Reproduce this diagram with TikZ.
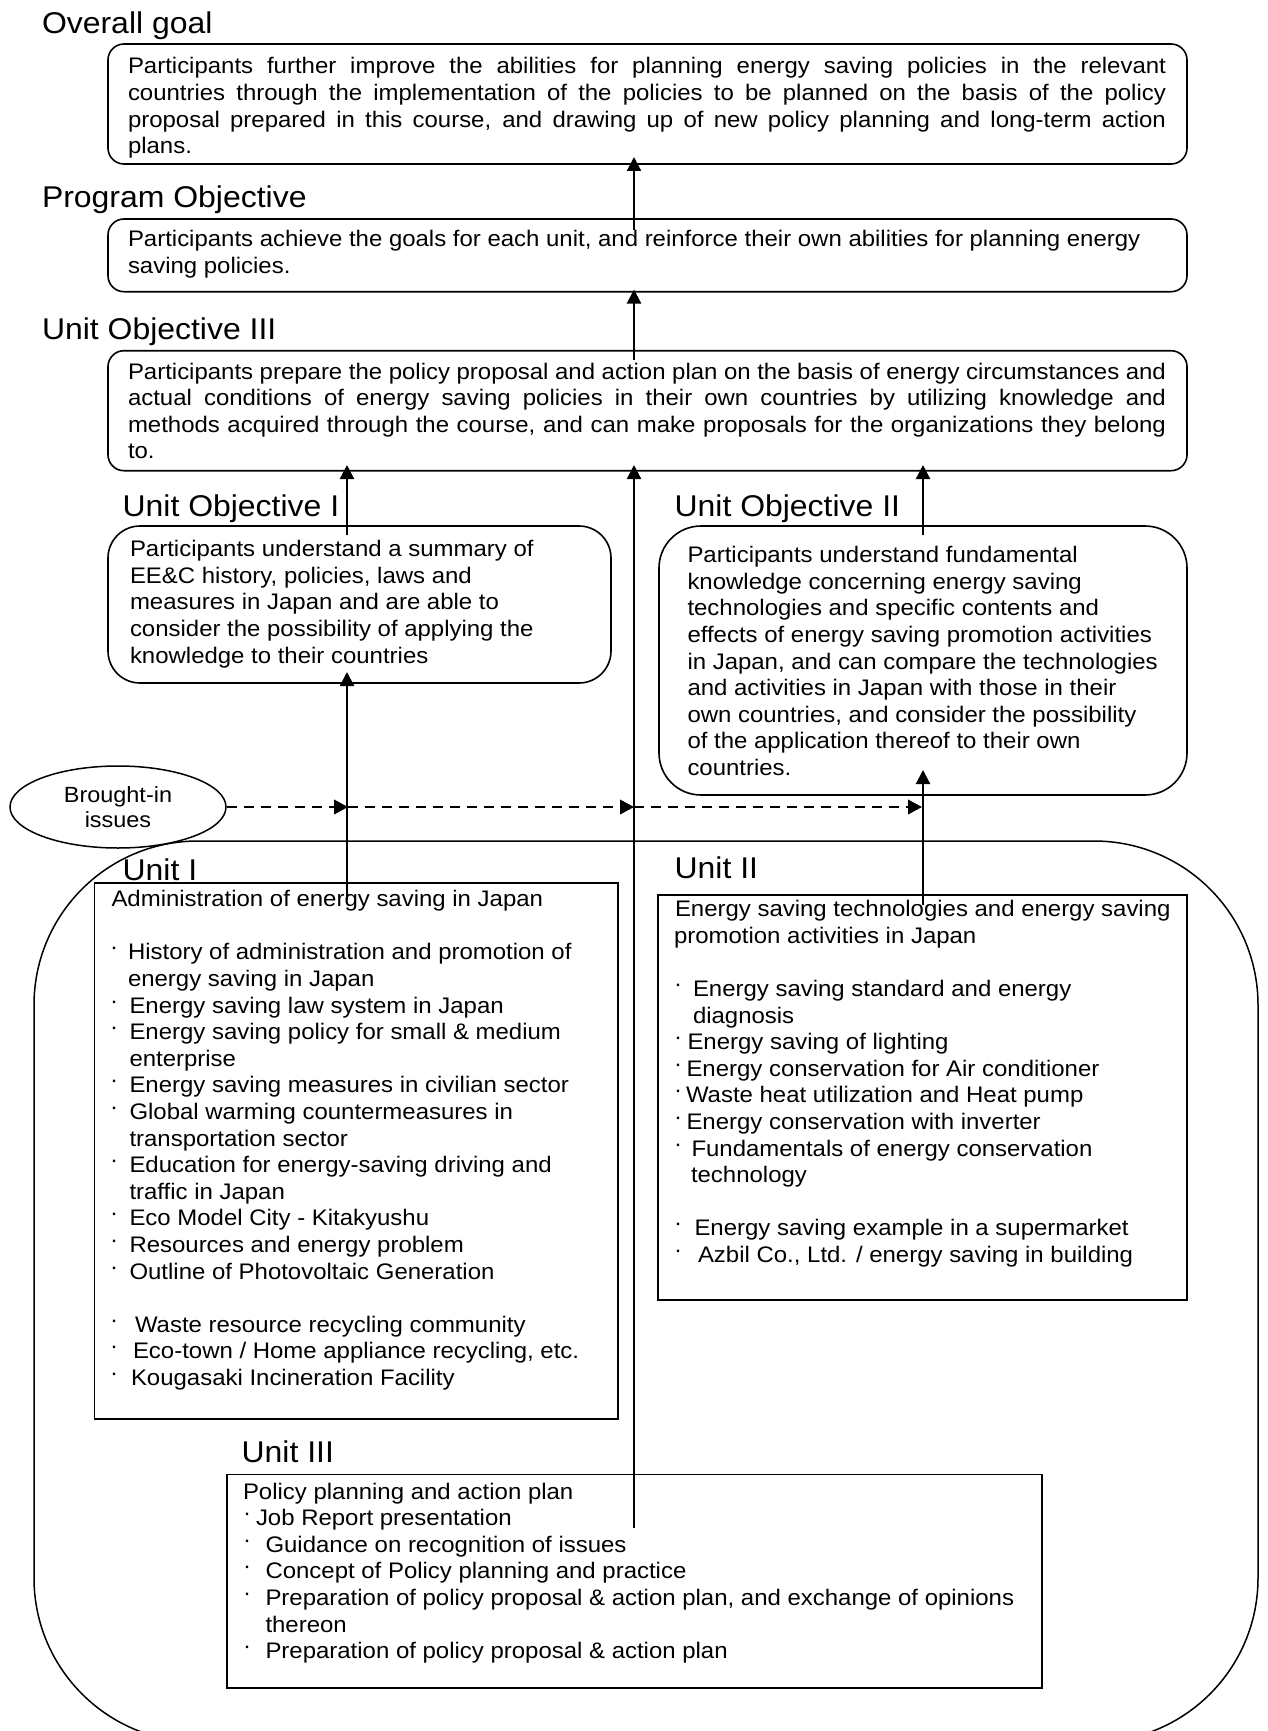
\documentclass[tikz,border=0pt]{standalone}
\usepackage{fontspec}
\setmainfont{Liberation Sans}[FakeStretch=1.065]
\usetikzlibrary{arrows.meta,shapes.geometric}

\newcommand\bdot{\raisebox{0.22em}{·}}
\newcommand\bl[2]{\makebox[#1][l]{\bdot}#2}
\newcommand\jl[1]{\makebox[\linewidth][s]{#1}}
\newcommand\bodyfont{\fontsize{22.5}{26.6}\selectfont}
\newcommand\ttlfont{\fontsize{30}{34}\selectfont}
\newcommand\blk[2]{\begin{minipage}[t]{#1}\bodyfont\raggedright #2\end{minipage}}

\begin{document}
\begin{tikzpicture}[x=1pt,y=-1pt,
  bx/.style={draw, line width=1.6pt, inner sep=0pt, outer sep=0pt, anchor=north west},
  ttl/.style={anchor=base west, inner sep=0pt, outer sep=0pt, font=\ttlfont},
  txt/.style={anchor=base west, inner sep=0pt, outer sep=0pt},
  arr/.style={line width=2.2pt, -{Triangle[length=14pt,width=14pt]}},
  dsh/.style={line width=2.2pt, dash pattern=on 10pt off 7pt, -{Triangle[length=14pt,width=14.5pt]}}]

\useasboundingbox (0,0) rectangle (1267,1731);

% ---- outer container (units) ----
\node[bx, line width=1.5pt, rounded corners=164pt, minimum width=1224pt, minimum height=901pt] (cont) at (34,841) {};

% ---- objective boxes ----
\node[bx, rounded corners=16pt, minimum width=1079pt, minimum height=120pt] (og) at (108,44) {};
\node[bx, rounded corners=16pt, minimum width=1079pt, minimum height=72.7pt] (po) at (108,219) {};
\node[bx, rounded corners=16pt, minimum width=1079pt, minimum height=120pt] (u3) at (108,350.7) {};
\node[bx, rounded corners=32pt, minimum width=503pt, minimum height=157pt] (u1) at (108,526) {};
\node[bx, rounded corners=42pt, minimum width=528pt, minimum height=269pt] (u2) at (659,526) {};

% ---- unit boxes ----
\node[bx, minimum width=523.5pt, minimum height=536pt] (b1) at (94.5,883) {};
\node[bx, minimum width=529pt, minimum height=405pt] (b2) at (658,895) {};
\node[bx, minimum width=815.3pt, minimum height=213.4pt] (b3) at (226.7,1474.3) {};

% ---- titles ----
\node[ttl] (ogl) at (42,33.3) {Overall goal};
\node[ttl] (pol) at (42,207.3) {Program Objective};
\node[ttl] (u3l) at (42,339) {Unit Objective III};
\node[ttl] (u1l) at (122.6,516) {Unit Objective I};
\node[ttl] (u2l) at (674.6,516.7) {Unit Objective II};
\node[ttl] (b1l) at (122.6,880.7) {Unit I};
\node[ttl] (b2l) at (674.6,878) {Unit II};
\node[ttl] (b3l) at (241.6,1462.7) {Unit III};

% ---- texts ----
\node[txt] (ogt) at (128,74) {\blk{1038pt}{%
\jl{Participants further improve the abilities for planning energy saving policies in the relevant}\\
\jl{countries through the implementation of the policies to be planned on the basis of the policy}\\
\jl{proposal prepared in this course, and drawing up of new policy planning and long-term action}\\
plans.}};

\node[txt] (pot) at (128,246.7) {\blk{1100pt}{%
Participants achieve the goals for each unit, and reinforce their own abilities for planning energy\\
saving policies.}};

\node[txt] (u3t) at (128,379) {\blk{1038pt}{%
\jl{Participants prepare the policy proposal and action plan on the basis of energy circumstances and}\\
\jl{actual conditions of energy saving policies in their own countries by utilizing knowledge and}\\
\jl{methods acquired through the course, and can make proposals for the organizations they belong}\\
to.}};

\node[txt] (u1t) at (130,556.7) {\blk{560pt}{%
Participants understand a summary of\\
EE\&C history, policies, laws and\\
measures in Japan and are able to\\
consider the possibility of applying the\\
knowledge to their countries}};

\node[txt] (u2t) at (687.5,562.7) {\blk{560pt}{%
Participants understand fundamental\\
knowledge concerning energy saving\\
technologies and specific contents and\\
effects of energy saving promotion activities\\
in Japan, and can compare the technologies\\
and activities in Japan with those in their\\
own countries, and consider the possibility\\
of the application thereof to their own\\
countries.}};

\node[txt] (b1t) at (110,906.7) {\blk{560pt}{%
\hspace*{1.5pt}Administration of energy saving in Japan\\
\mbox{}\\
\bl{18pt}{History of administration and promotion of}\\
\hspace*{18pt}energy saving in Japan\\
\bl{19.5pt}{Energy saving law system in Japan}\\
\bl{19.5pt}{Energy saving policy for small \& medium}\\
\hspace*{19.5pt}enterprise\\
\bl{19.5pt}{Energy saving measures in civilian sector}\\
\bl{19.5pt}{Global warming countermeasures in}\\
\hspace*{19.5pt}transportation sector\\
\bl{19.5pt}{Education for energy-saving driving and}\\
\hspace*{19.5pt}traffic in Japan\\
\bl{19.5pt}{Eco Model City - Kitakyushu}\\
\bl{19.5pt}{Resources and energy problem}\\
\bl{19.5pt}{Outline of Photovoltaic Generation}\\
\mbox{}\\
\bl{25pt}{Waste resource recycling community}\\
\bl{23pt}{Eco-town / Home appliance recycling, etc.}\\
\bl{21pt}{Kougasaki Incineration Facility}}};

\node[txt] (b2t) at (674,916.7) {\blk{560pt}{%
\hspace*{1pt}Energy saving technologies and energy saving\\
promotion activities in Japan\\
\mbox{}\\
\bl{19pt}{Energy saving standard and energy}\\
\hspace*{19pt}diagnosis\\
\bl{13.5pt}{Energy saving of lighting}\\
\bl{12.5pt}{Energy conservation for Air conditioner}\\
\bl{12pt}{Waste heat utilization and Heat pump}\\
\bl{12.5pt}{Energy conservation with inverter}\\
\bl{17.5pt}{Fundamentals of energy conservation}\\
\hspace*{17pt}technology\\
\mbox{}\\
\bl{20.5pt}{Energy saving example in a supermarket}\\
\bl{24pt}{Azbil Co., Ltd. / energy saving in building}}};

\node[txt] (b3t) at (243,1499) {\blk{800pt}{%
Policy planning and action plan\\
\bl{13pt}{Job Report presentation}\\
\bl{22.5pt}{Guidance on recognition of issues}\\
\bl{22.5pt}{Concept of Policy planning and practice}\\
\bl{22.5pt}{Preparation of policy proposal \& action plan, and exchange of opinions}\\
\hspace*{22.5pt}thereon\\
\bl{22.5pt}{Preparation of policy proposal \& action plan}}};

% ---- brought-in issues ----
\node[draw, ellipse, fill=white, line width=1.5pt, minimum width=216pt, minimum height=82pt, inner sep=0pt, align=center,
      font=\fontsize{22}{25}\selectfont] (bi) at (118,807) {Brought-in\\issues};

% ---- connector end points ----
\coordinate (p1) at (634,230);  \coordinate (q1) at (634,157);
\coordinate (p2) at (634,360);  \coordinate (q2) at (634,289.5);
\coordinate (p3) at (347,535);  \coordinate (q3) at (347,465);
\coordinate (p4) at (634,1528); \coordinate (q4) at (634,465);
\coordinate (p5) at (923,535);  \coordinate (q5) at (923,465);
\coordinate (p6) at (347,900);  \coordinate (q6) at (347,672);
\coordinate (p7) at (923,905);  \coordinate (q7) at (923,770);
\coordinate (d1) at (348,807);  \coordinate (d2) at (634,807);  \coordinate (d3) at (922,807);

% ---- connectors ----
\draw[arr] (p1) -- (q1);
\draw[arr] (p2) -- (q2);
\draw[arr] (p3) -- (q3);
\draw[arr] (p4) -- (q4);
\draw[arr] (p5) -- (q5);
\draw[arr] (p6) -- (q6);
\draw[arr] (p7) -- (q7);

\draw[dsh] (bi.east) -- (d1);
\draw[dsh] (d1) -- (d2);
\draw[dsh] (d2) -- (d3);
\end{tikzpicture}
\end{document}
